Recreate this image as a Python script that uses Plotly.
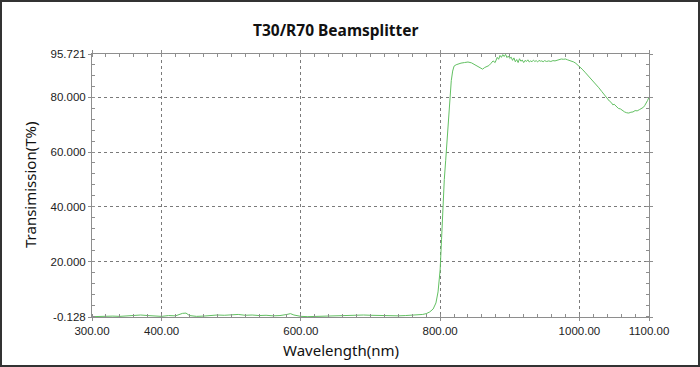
import plotly.graph_objects as go

wavelength = [300, 310, 320, 330, 340, 350, 360, 370, 380, 390, 400, 410, 420, 430, 435, 440, 450, 460, 470, 480,
              490, 500, 505, 510, 520, 530, 540, 550, 560, 570, 580, 585, 590, 600, 610, 620, 630, 640, 650, 660,
              670, 680, 690, 700, 710, 720, 730, 740, 750, 760, 770, 775, 780, 785, 790, 794, 797, 800, 802, 804,
              806, 808, 810, 812, 814, 816, 818, 820, 823, 826, 830, 835, 840, 845, 850, 855, 858, 861, 864, 867,
              870, 873, 876, 879, 882, 884, 886, 888, 890, 892, 894, 896, 898, 900, 902, 904, 906, 908, 910, 912,
              914, 916, 918, 920, 922, 924, 926, 928, 930, 932, 934, 936, 938, 940, 942, 944, 946, 948, 950, 953,
              956, 959, 962, 965, 968, 971, 974, 977, 980, 983, 986, 989, 992, 995, 998, 1001, 1004, 1008, 1012, 1016,
              1020, 1024, 1028, 1032, 1036, 1040, 1043, 1046, 1048, 1050, 1053, 1056, 1059, 1062, 1065, 1068, 1071, 1074, 1077, 1080,
              1083, 1086, 1089, 1092, 1094, 1096, 1098, 1100]
transmission = [0.0, 0.1, 0.0, 0.2, 0.1, 0.3, 0.5, 0.6, 0.4, 0.2, 0.1, 0.4, 0.3, 1.2, 1.3, 0.4, 0.1, 0.2, 0.4, 0.6,
                0.5, 0.6, 0.9, 0.8, 0.5, 0.6, 0.4, 0.5, 0.3, 0.4, 0.8, 1.1, 0.6, 0.1, 0.0, 0.1, 0.2, 0.3, 0.4, 0.5,
                0.4, 0.5, 0.6, 0.5, 0.4, 0.5, 0.4, 0.3, 0.4, 0.5, 0.6, 0.8, 1.1, 1.7, 2.8, 5.0, 9.0, 17.0, 28.0, 41.0,
                50.0, 57.0, 64.0, 71.0, 80.0, 86.0, 89.5, 91.3, 91.8, 92.1, 92.4, 92.6, 92.8, 92.5, 91.7, 90.9, 90.4, 90.2, 90.8, 91.2,
                91.5, 92.3, 93.2, 92.6, 94.5, 93.8, 95.2, 94.5, 95.5, 94.8, 95.6, 94.4, 95.0, 94.1, 94.6, 93.4, 94.3, 92.9, 93.7, 92.6,
                94.0, 93.1, 93.5, 92.6, 93.4, 93.0, 93.6, 92.8, 93.2, 92.9, 93.5, 93.0, 93.3, 92.8, 93.4, 93.1, 93.2, 92.9, 93.3, 93.0,
                93.2, 93.0, 93.3, 93.2, 93.5, 93.7, 93.9, 93.8, 93.9, 93.6, 93.4, 93.2, 92.8, 92.3, 91.7, 91.0, 90.2, 89.1, 88.0, 87.0,
                85.9, 84.7, 83.4, 82.1, 80.7, 79.4, 78.6, 78.0, 77.2, 77.4, 76.5, 75.9, 75.7, 75.0, 74.6, 74.3, 74.2, 74.5, 74.6, 75.1,
                75.0, 75.4, 75.9, 76.3, 77.0, 77.8, 78.8, 80.0]

x_ticks = [300, 400, 600, 800, 1000, 1100]
x_ticktext = ["300.00", "400.00", "600.00", "800.00", "1000.00", "1100.00"]
y_ticks = [-0.128, 20, 40, 60, 80, 95.721]
y_ticktext = ["-0.128", "20.000", "40.000", "60.000", "80.000", "95.721"]

L, R, T, B = 92, 51, 54, 50
W, H = 700, 367
pw, ph = W - L - R, H - T - B

fig = go.Figure()
fig.add_trace(go.Scatter(x=wavelength, y=transmission, mode="lines",
                         line=dict(color="#62c062", width=1), hoverinfo="x+y"))

axis_common = dict(
    showline=True, linecolor="#8e8e8e", linewidth=1, mirror="allticks",
    showgrid=True, gridcolor="#7a7a7a", griddash="dot", gridwidth=1,
    ticks="outside", ticklen=3, tickcolor="#8e8e8e",
    tickfont=dict(family="Liberation Sans, Arial", size=11.5, color="#222222"),
    zeroline=False, tickmode="array",
)

fig.update_xaxes(range=[300, 1100], tickvals=x_ticks, ticktext=x_ticktext,
                 minor=dict(tick0=300, dtick=20, ticks="inside", ticklen=3, tickcolor="#8e8e8e", showgrid=False),
                 **axis_common)
fig.update_yaxes(range=[-0.128, 95.721], tickvals=y_ticks, ticktext=y_ticktext,
                 minor=dict(tick0=0, dtick=4, ticks="inside", ticklen=3, tickcolor="#8e8e8e", showgrid=False),
                 **axis_common)

fig.update_layout(
    width=W, height=H,
    margin=dict(l=L, r=R, t=T, b=B, pad=0),
    paper_bgcolor="white", plot_bgcolor="white",
    showlegend=False,
    annotations=[
        dict(text="<b>T30/R70 Beamsplitter</b>", xref="paper", yref="paper",
             x=(336 - L) / pw, y=(H - B - 30) / ph, xanchor="center", yanchor="middle",
             showarrow=False, font=dict(family="Noto Sans, Open Sans", size=15.5, color="#111111")),
        dict(text="Wavelength(nm)", xref="paper", yref="paper",
             x=(341 - L) / pw, y=(H - B - 350) / ph, xanchor="center", yanchor="middle",
             showarrow=False, font=dict(family="Noto Sans, Open Sans", size=15, color="#111111")),
        dict(text="Transimission(T%)", xref="paper", yref="paper", textangle=-90,
             x=(30 - L) / pw, y=(H - B - 185) / ph, xanchor="center", yanchor="middle",
             showarrow=False, font=dict(family="Noto Sans, Open Sans", size=15, color="#111111")),
    ],
    shapes=[
        dict(type="rect", xref="paper", yref="paper",
             x0=(1 - L) / pw, x1=(699 - L) / pw, y0=(H - B - 366) / ph, y1=(H - B - 1) / ph,
             line=dict(color="#333333", width=2), fillcolor="rgba(0,0,0,0)", layer="above"),
    ],
)

fig.write_html("out.html", config={"displayModeBar": False},
               post_script="document.body.style.margin='0';document.body.style.overflow='hidden';")
